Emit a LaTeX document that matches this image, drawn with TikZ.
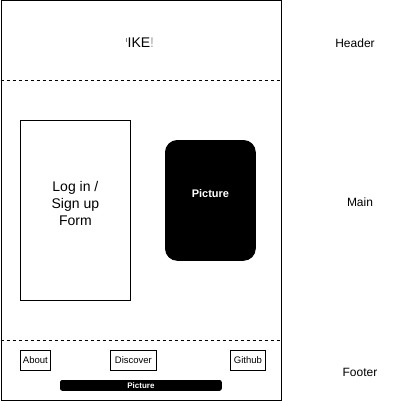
\documentclass[tikz,border=0pt]{standalone}
\usepackage{fontspec}
\setmainfont{Liberation Sans}
\usetikzlibrary{calc}
\begin{document}
\begin{tikzpicture}[x=1pt, y=-1pt, line width=0.8pt,
    box/.style={rectangle, draw=black, inner sep=0pt, anchor=north west},
    btn/.style={box, font=\fontsize{9.5}{10}\selectfont, minimum height=20pt},
    side/.style={font=\fontsize{12}{14}\selectfont}]

        \useasboundingbox (0,0) rectangle (401,401);

        %% Frame
        \node (frame) [box, minimum width=280pt, minimum height=399pt] at (0.5,0.5) {};
        \draw [dash pattern=on 3pt off 3pt, line width=0.6pt] (0.5,80) -- (280.5,80);
        \draw [dash pattern=on 3pt off 3pt, line width=0.6pt] (0.5,340) -- (280.5,340);

        %% Header
        \node (title) [font=\fontsize{14}{16}\selectfont] at (140,43) {\textcolor{gray}{\rule[6pt]{0.7pt}{4pt}}\kern1pt IKE\textcolor{gray!70}{!}};

        %% Main
        \node (form) [box, minimum width=110pt, minimum height=180pt] at (20,120) {};
        \node (formtext) [align=center, font=\fontsize{14}{17}\selectfont] at ($(form.center)+(0,-7)$) {Log in /\\Sign up\\Form};
        \node (picture) [box, fill=black, rounded corners=12pt, minimum width=90pt, minimum height=120pt] at (165,140) {};
        \node (picturetext) [text=white, font=\bfseries\fontsize{11}{13}\selectfont] at ($(picture.center)+(0,-7)$) {Picture};

        %% Footer
        \node (about) [btn, minimum width=30pt] at (20,350) {About};
        \node (discover) [btn, minimum width=46pt] at (110,350) {Discover};
        \node (github) [btn, minimum width=35pt] at (230,350) {Github};
        \node (bar) [box, fill=black, rounded corners=2pt, minimum width=161pt, minimum height=10pt, text=white, font=\bfseries\fontsize{8}{9}\selectfont] at (60,380) {Picture};

        %% Section names
        \node (header) [side] at (355,43) {Header};
        \node (main) [side] at (360,202) {Main};
        \node (footer) [side] at (360,372) {Footer};

\end{tikzpicture}
\end{document}
